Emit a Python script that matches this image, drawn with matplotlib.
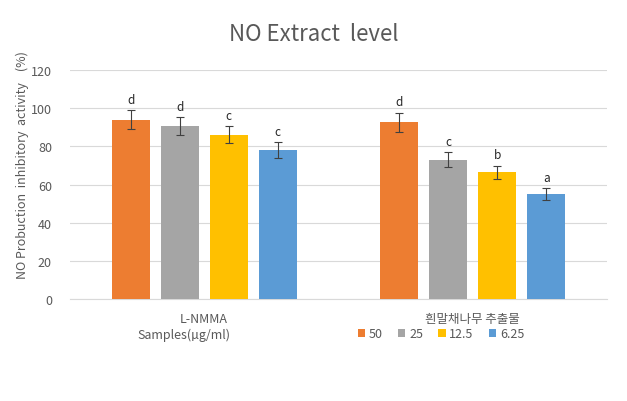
import matplotlib
matplotlib.use("Agg")
import matplotlib.pyplot as plt
import numpy as np

plt.rcParams['font.family'] = ['Noto Sans CJK KR', 'DejaVu Sans']

categories = ["L-NMMA", "흰말채나무 추출물"]
series_names = ["50", "25", "12.5", "6.25"]
values = {
    "50":   [94.0, 92.6],
    "25":   [90.7, 73.0],
    "12.5": [86.0, 66.5],
    "6.25": [78.0, 55.0],
}
errors = {
    "50":   [4.8, 5.1],
    "25":   [4.5, 3.8],
    "12.5": [4.5, 3.4],
    "6.25": [4.1, 3.0],
}
letters = {
    "50":   ["d", "d"],
    "25":   ["d", "c"],
    "12.5": ["c", "b"],
    "6.25": ["c", "a"],
}
colors = ["#ED7D31", "#A5A5A5", "#FFC000", "#5B9BD5"]
yticks = [0, 20, 40, 60, 80, 100, 120]

txt = "#595959"
fig = plt.figure(figsize=(6.27, 4.02), dpi=100)
ax = fig.add_axes([0.1116, 0.2537, 0.8565, 0.5697])

x = np.arange(len(categories))
step = 0.1825
width = 0.1415
for i, name in enumerate(series_names):
    pos = x + (i - 1.5) * step
    ax.bar(pos, values[name], width, color=colors[i], label=name, zorder=3)
    ax.errorbar(pos, values[name], yerr=errors[name], fmt='none', ecolor='#404040',
                elinewidth=0.8, capsize=3, capthick=0.8, zorder=4)
    for p, v, e, l in zip(pos, values[name], errors[name], letters[name]):
        ax.annotate(l, (p, v + e), xytext=(0, 3), textcoords='offset points',
                    ha='center', va='bottom', fontsize=8.5, color='#262626')

ax.set_xlim(-0.5, 1.5)
ax.set_ylim(0, 120)
ax.set_yticks(yticks)
ax.set_yticklabels([str(t) for t in yticks], color=txt, fontsize=9)
ax.set_xticks(x)
ax.set_xticklabels(categories, color=txt, fontsize=9)
ax.tick_params(axis='x', length=0, pad=9)
ax.tick_params(axis='y', length=0, pad=13)
ax.grid(axis='y', color='#D9D9D9', linewidth=0.8, zorder=0)
for s in ['top', 'right', 'left']:
    ax.spines[s].set_visible(False)
ax.spines['bottom'].set_color('#D9D9D9')

ax.set_ylabel("NO Probuction  inhibitory  activity    (%)", color=txt, fontsize=9)
ax.yaxis.set_label_coords(-0.077, 0.59)

fig.text(0.5, 0.915, "NO Extract  level", ha='center', va='center', fontsize=16, color=txt)
fig.text(137/627, 1 - 335/402, "Samples(µg/ml)", ha='left', va='center', fontsize=9, color=txt)

leg = fig.legend(loc='center', bbox_to_anchor=(441/627, 1 - 335/402), ncol=4, frameon=False,
                 fontsize=9, handlelength=0.6, handleheight=0.6, handletextpad=0.3,
                 columnspacing=1.2)
for t in leg.get_texts():
    t.set_color(txt)

fig.savefig("out.png", dpi=100)
